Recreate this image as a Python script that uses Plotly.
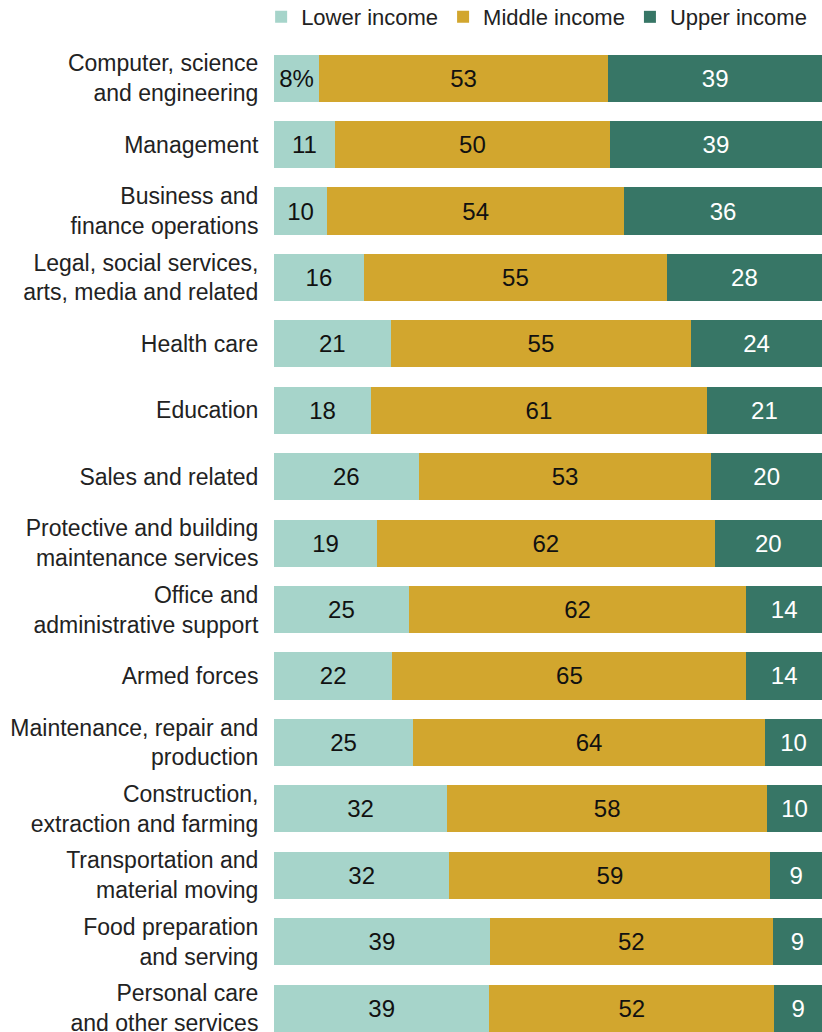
import plotly.graph_objects as go

categories = [
    "Computer, science<br>and engineering",
    "Management",
    "Business and<br>finance operations",
    "Legal, social services,<br>arts, media and related",
    "Health care",
    "Education",
    "Sales and related",
    "Protective and building<br>maintenance services",
    "Office and<br>administrative support",
    "Armed forces",
    "Maintenance, repair and<br>production",
    "Construction,<br>extraction and farming",
    "Transportation and<br>material moving",
    "Food preparation<br>and serving",
    "Personal care<br>and other services",
]

lower = [8.2, 11.1, 9.7, 16.4, 21.3, 17.7, 26.4, 18.8, 24.6, 21.6, 25.4, 31.6, 32.0, 39.4, 39.3]
middle = [52.8, 50.2, 54.2, 55.3, 54.8, 61.3, 53.4, 61.6, 61.6, 64.6, 64.2, 58.4, 58.6, 51.6, 52.0]
upper = [39.0, 38.7, 36.1, 28.3, 23.9, 21.0, 20.2, 19.6, 13.8, 13.8, 10.4, 10.0, 9.4, 9.0, 8.7]

series_names = ["Lower income", "Middle income", "Upper income"]
colors = ["#a6d4ca", "#d2a62e", "#377666"]
text_colors = ["#111111", "#111111", "#ffffff"]

FONT = "Liberation Sans, Arial, sans-serif"

def labels(vals, first_pct=False):
    out = [str(int(round(v))) for v in vals]
    if first_pct:
        out[0] = out[0] + "%"
    return out

fig = go.Figure()
for name, vals, col, tcol, pct in zip(series_names, [lower, middle, upper], colors, text_colors, [True, False, False]):
    fig.add_trace(go.Bar(
        y=categories, x=vals, name=name, orientation="h",
        marker=dict(color=col, line=dict(width=0)),
        text=labels(vals, pct), textposition="inside", insidetextanchor="middle",
        textangle=0,
        textfont=dict(family=FONT, size=24, color=tcol),
        constraintext="none", hoverinfo="skip",
    ))

fig.update_layout(
    width=822, height=1032,
    barmode="stack", bargap=0.29,
    margin=dict(l=274, r=0, t=45, b=0, autoexpand=False),
    paper_bgcolor="white", plot_bgcolor="white",
    font=dict(family=FONT, size=22, color="#222222"),
    showlegend=True,
    legend=dict(orientation="h", x=0.988, xref="container", xanchor="right",
                y=0.9835, yref="container", yanchor="middle",
                font=dict(family=FONT, size=22, color="#222222"),
                traceorder="normal", itemclick=False, bgcolor="rgba(0,0,0,0)"),
    xaxis=dict(range=[0, 100], visible=False, fixedrange=True),
    yaxis=dict(type="category", categoryorder="array", categoryarray=categories,
               range=[14.36, -0.5], showgrid=False, zeroline=False, showline=False,
               ticks="outside", ticklen=10, tickcolor="rgba(0,0,0,0)",
               tickfont=dict(family=FONT, size=23, color="#222222")),
)

fig.write_html(
    "out.html",
    config={"displayModeBar": False},
    post_script="document.body.style.margin='0';document.body.style.overflow='hidden';",
)
